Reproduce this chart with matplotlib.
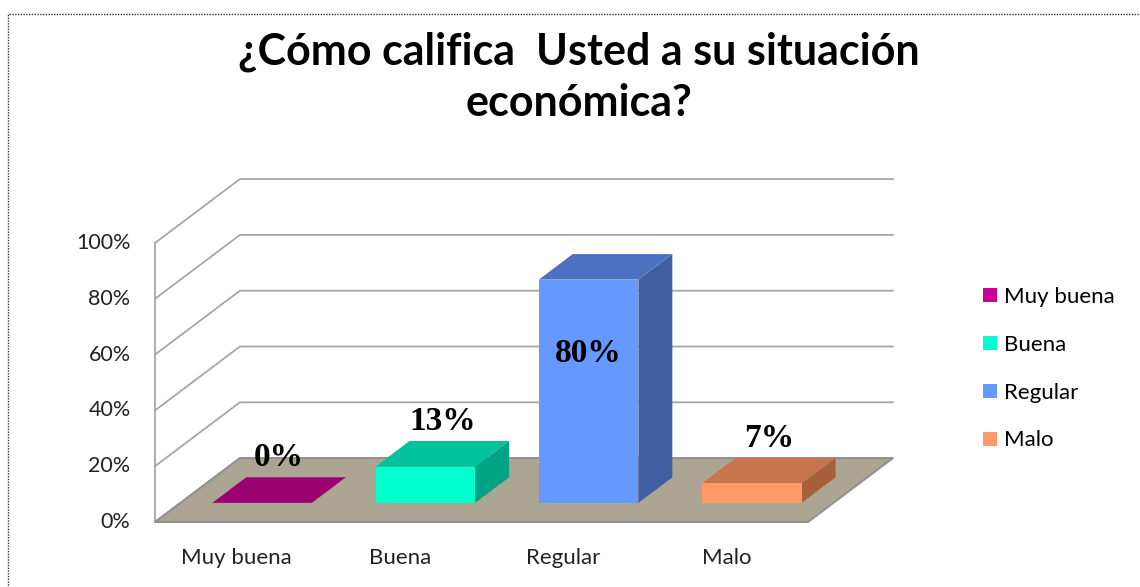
import numpy as np
import matplotlib.pyplot as plt
from matplotlib.patches import Polygon, Patch, Rectangle

categories = ["Muy buena", "Buena", "Regular", "Malo"]
values = [0, 13, 80, 7]
labels = ["0%", "13%", "80%", "7%"]
yticks = [0, 20, 40, 60, 80, 100]

front_colors = ["#9a0070", "#00ffcc", "#6699ff", "#ff9966"]
top_colors = ["#9a0070", "#00c39c", "#4a72c0", "#c8744c"]
side_colors = ["#7a0058", "#00a383", "#3f5fa0", "#a8603c"]
legend_colors = ["#cc0099", "#00ffcc", "#6699ff", "#ff9966"]

# depth offset of the 3d box (category units, value units)
DX = 0.52
DY = 22.9
d0, d1 = 0.3, 0.7
w = 0.61

fig = plt.figure(figsize=(11.4, 5.87), dpi=100)
ax = fig.add_axes([155 / 1140, 65 / 587, 653 / 1140, 279 / 587])
ax.set_xlim(0, 4)
ax.set_ylim(0, 100)
ax.axis("off")

grid_c = "#a6a6a6"
n = len(categories)
# back wall + side wall gridlines
for v in yticks:
    ax.plot([0, DX, n + DX], [v, v + DY, v + DY], color=grid_c, lw=1.3,
            clip_on=False, zorder=1)
ax.plot([0, 0], [0, 100], color=grid_c, lw=1.3, clip_on=False, zorder=1)

# floor
floor = Polygon([(0, 0), (n, 0), (n + DX, DY), (DX, DY)], closed=True,
                facecolor="#ada594", edgecolor="#8f8f8f", lw=1.4,
                clip_on=False, zorder=2)
ax.add_patch(floor)

# bars
for i, v in enumerate(values):
    x0 = i + 0.5 - w / 2 + d0 * DX
    x1 = x0 + w
    y0 = d0 * DY
    ox, oy = (d1 - d0) * DX, (d1 - d0) * DY
    front = Polygon([(x0, y0), (x1, y0), (x1, y0 + v), (x0, y0 + v)],
                    facecolor=front_colors[i], edgecolor="none",
                    clip_on=False, zorder=4)
    top = Polygon([(x0, y0 + v), (x1, y0 + v), (x1 + ox, y0 + v + oy),
                   (x0 + ox, y0 + v + oy)], facecolor=top_colors[i],
                  edgecolor="none", clip_on=False, zorder=3)
    side = Polygon([(x1, y0), (x1 + ox, y0 + oy), (x1 + ox, y0 + v + oy),
                    (x1, y0 + v)], facecolor=side_colors[i],
                   edgecolor="none", clip_on=False, zorder=3)
    for p in (side, top):
        ax.add_patch(p)
    if v > 0:
        ax.add_patch(front)
    if v == max(values):
        ax.text(x0 + w / 2, y0 + v * 0.67, labels[i], ha="center", va="center",
                fontsize=24, fontweight="bold", family="Liberation Serif",
                zorder=6)
    else:
        ax.text(i + 0.5 + 0.5 * DX, v + d1 * DY + 1.5, labels[i], ha="center",
                va="bottom", fontsize=24, fontweight="bold",
                family="Liberation Serif", zorder=6)

# tick labels
for v in yticks:
    ax.text(-0.15, v, f"{v}%", ha="right", va="center", fontsize=15.5,
            family="Lato", color="#222222")
for i, c in enumerate(categories):
    ax.text(i + 0.5, -13, c, ha="center", va="center", fontsize=16,
            family="Lato", color="#222222")

fig.text(0.508, 0.868, "¿Cómo califica  Usted a su situación\neconómica?",
         ha="center", va="center", fontsize=31, fontweight="bold",
         family="Lato", linespacing=1.32)

handles = [Patch(facecolor=c, edgecolor="none") for c in legend_colors]
fig.legend(handles, categories, loc="upper left",
           bbox_to_anchor=(0.845, 0.545), frameon=False,
           prop={"family": "Lato", "size": 16}, handlelength=0.6,
           handleheight=0.6, handletextpad=0.35, labelspacing=1.25)

fig.patches.append(Rectangle((8 / 1140, -0.1), 1.2, (587 - 14) / 587 + 0.1,
                             transform=fig.transFigure, fill=False,
                             linestyle=(0, (1, 1)), lw=1, edgecolor="#333333"))

fig.savefig("out.png", dpi=100)
